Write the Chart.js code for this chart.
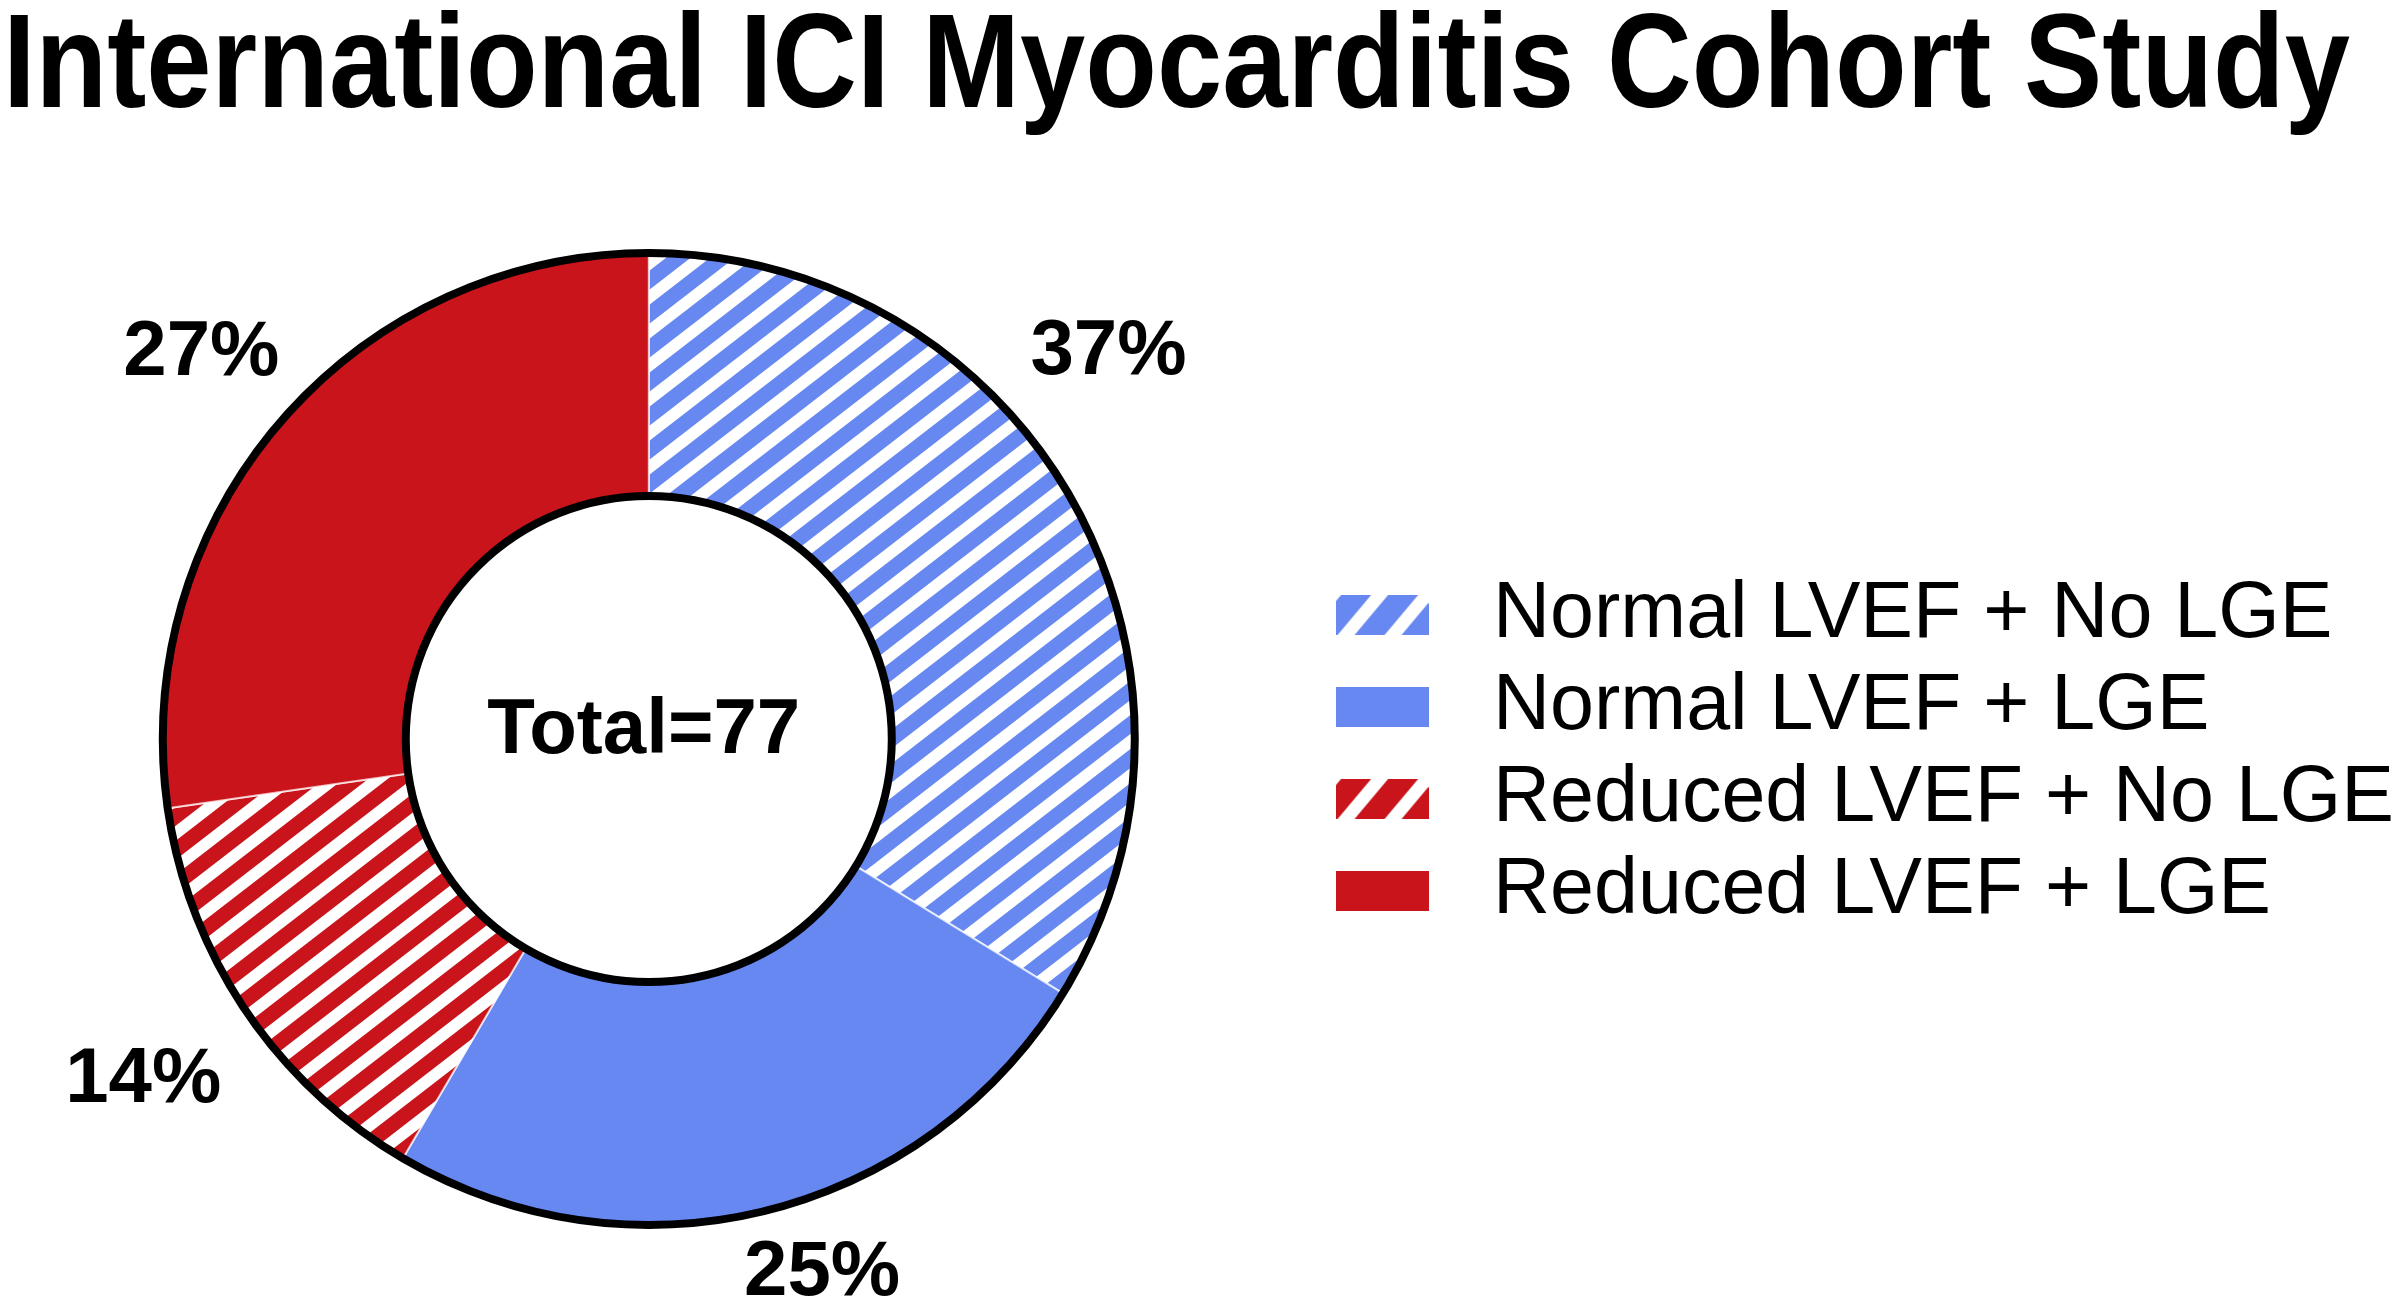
<!DOCTYPE html>
<html>
<head>
<meta charset="utf-8">
<title>International ICI Myocarditis Cohort Study</title>
<script src="https://cdn.jsdelivr.net/npm/chart.js@4.4.1/dist/chart.umd.min.js"></script>
<style>
  html, body { margin: 0; padding: 0; background: #fff; }
  canvas { display: block; }
</style>
</head>
<body>
<canvas id="cohortChart" width="2400" height="1310"></canvas>
<script>
const chartTitle = 'International ICI Myocarditis Cohort Study';
const groups = ['Normal LVEF + No LGE', 'Normal LVEF + LGE', 'Reduced LVEF + No LGE', 'Reduced LVEF + LGE'];
const patients = [26, 19, 11, 21];
const pctLabels = ['37%', '25%', '14%', '27%'];
const hatched = [true, false, true, false];

const BLUE = '#6688f0';
const RED = '#c8141a';
const FONT = '"Liberation Sans", Arial, sans-serif';

// diagonal stripe tile, lines run "/" ; w,h = horizontal / vertical period
function stripes(bg, fg, w, h, lw) {
  const c = document.createElement('canvas');
  c.width = w;
  c.height = h;
  const g = c.getContext('2d');
  g.fillStyle = bg;
  g.fillRect(0, 0, w, h);
  g.strokeStyle = fg;
  g.lineWidth = lw;
  for (let k = 0; k <= 2; k++) {
    g.beginPath();
    g.moveTo(k * w + w, -h);
    g.lineTo(k * w - 3 * w, 3 * h);
    g.stroke();
  }
  return g.createPattern(c, 'repeat');
}

// little legend swatch drawn onto its own canvas, used as the point style
function swatch(col, hatch) {
  const bw = 93, bh = 40;
  const c = document.createElement('canvas');
  c.width = bw;
  c.height = bh;
  const g = c.getContext('2d');
  g.fillStyle = col;
  g.fillRect(0, 0, bw, bh);
  if (hatch) {
    const slope = 1 / Math.tan(50 * Math.PI / 180);
    g.strokeStyle = '#fff';
    g.lineWidth = 13;
    for (let k = -1; k <= 2; k++) {
      const x0 = 10.5 + k * 47;
      g.beginPath();
      g.moveTo(x0 - 10 * slope, bh + 10);
      g.lineTo(x0 + (bh + 10) * slope, -10);
      g.stroke();
    }
  }
  return c;
}

const baseColors = [BLUE, BLUE, RED, RED];
const sliceFills = baseColors.map((col, i) => hatched[i] ? stripes('#fff', col, 44, 34, 15) : col);
const legendMarks = baseColors.map((col, i) => swatch(col, hatched[i]));

const ringPlugin = {
  id: 'ring',
  afterDatasetsDraw(chart) {
    const ctx = chart.ctx;
    const arcs = chart.getDatasetMeta(0).data;
    const a0 = arcs[0];
    const cx = a0.x, cy = a0.y;

    ctx.save();
    ctx.strokeStyle = '#000';
    ctx.lineWidth = 8;
    [a0.outerRadius, a0.innerRadius].forEach(r => {
      ctx.beginPath();
      ctx.arc(cx, cy, r, 0, Math.PI * 2);
      ctx.stroke();
    });

    // percentage labels outside the ring
    const place = [[-11, 116], [-4, 74], [0, 123], [0, 106]];
    ctx.fillStyle = '#000';
    ctx.font = 'bold 78px ' + FONT;
    ctx.textAlign = 'center';
    ctx.textBaseline = 'middle';
    arcs.forEach((arc, i) => {
      const mid = (arc.startAngle + arc.endAngle) / 2 + place[i][0] * Math.PI / 180;
      const r = arc.outerRadius + place[i][1];
      ctx.fillText(pctLabels[i], cx + r * Math.cos(mid), cy + r * Math.sin(mid) + 2);
    });

    const total = patients.reduce((s, v) => s + v, 0);
    ctx.textBaseline = 'alphabetic';
    ctx.fillText('Total=' + total, cx - 5, cy + 14);
    ctx.restore();
  },
  afterDraw(chart) {
    const ctx = chart.ctx;
    ctx.save();
    ctx.font = 'bold 133px ' + FONT;
    ctx.fillStyle = '#000';
    ctx.textBaseline = 'alphabetic';
    const w = ctx.measureText(chartTitle).width;
    ctx.translate(3, 107);
    ctx.scale(2347 / w, 1);
    ctx.fillText(chartTitle, 0, 0);
    ctx.restore();
  }
};

const ctx = document.getElementById('cohortChart').getContext('2d');
const cohortChart = new Chart(ctx, {
  type: 'doughnut',
  data: {
    labels: groups,
    datasets: [{
      data: patients,
      backgroundColor: sliceFills,
      borderColor: 'rgba(255,255,255,0.7)',
      borderWidth: 2,
      hoverOffset: 0
    }]
  },
  options: {
    responsive: false,
    devicePixelRatio: 1,
    animation: false,
    events: [],
    cutout: '50%',
    radius: 486,
    layout: { padding: { top: 253, bottom: 85, left: -32, right: -4 } },
    plugins: {
      title: { display: false },
      tooltip: { enabled: false },
      legend: {
        position: 'right',
        title: { display: true, text: ' ', font: { size: 10 }, padding: { top: 0, bottom: 16 } },
        labels: {
          usePointStyle: true,
          pointStyleWidth: 143,
          boxHeight: 40,
          padding: 13,
          color: '#000',
          font: { family: FONT, size: 79 },
          generateLabels(chart) {
            const items = Chart.overrides.doughnut.plugins.legend.labels.generateLabels(chart);
            items.forEach((it, i) => {
              it.pointStyle = legendMarks[i];
              it.lineWidth = 0;
              it.strokeStyle = 'rgba(0,0,0,0)';
            });
            return items;
          }
        }
      }
    }
  },
  plugins: [ringPlugin]
});
</script>
</body>
</html>
